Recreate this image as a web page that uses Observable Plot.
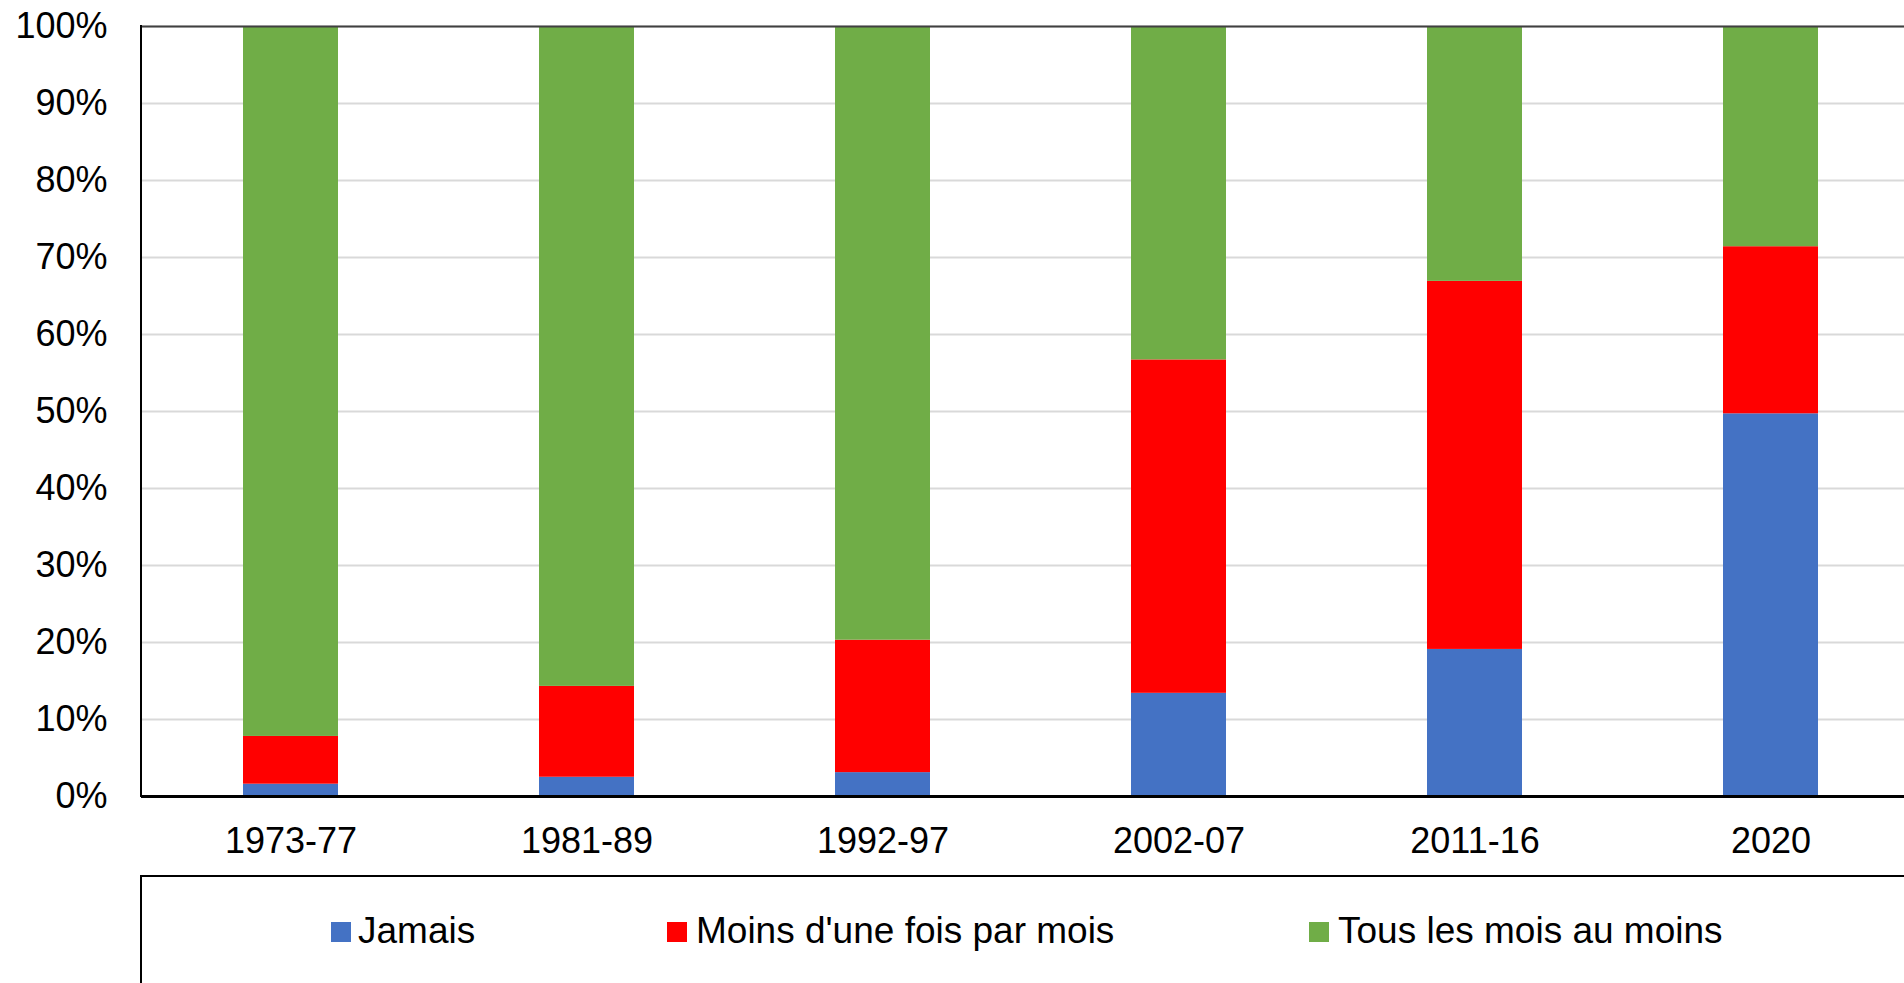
<!DOCTYPE html>
<html>
<head>
<meta charset="utf-8">
<script src="https://cdn.jsdelivr.net/npm/d3@7"></script>
<script src="https://cdn.jsdelivr.net/npm/@observablehq/plot@0.6"></script>
<style>
  html, body { margin: 0; padding: 0; background: #fff; overflow: hidden; width: 1904px; height: 983px; }
  body { font-family: "Liberation Sans", Arial, sans-serif; position: relative; }
  #chart { position: absolute; left: 0; top: 0; width: 1930px; }
  #chart svg { max-width: none !important; }
  #legend { position: absolute; left: 140px; top: 875px; width: 1800px; height: 200px; border: 2px solid #000; box-sizing: border-box; }
  .item { position: absolute; font-size: 37px; line-height: 37px; color: #000; white-space: nowrap; }
  .sw { position: absolute; width: 20px; height: 20px; }
</style>
</head>
<body>
<div id="chart"></div>
<div id="legend"></div>
<script>
const categories = ["1973-77", "1981-89", "1992-97", "2002-07", "2011-16", "2020"];
const seriesNames = ["Jamais", "Moins d'une fois par mois", "Tous les mois au moins"];
const seriesColors = ["#4472C4", "#FF0000", "#70AD47"];
const jamais = [1.6, 2.5, 3.1, 13.4, 19.1, 49.7];
const moins = [6.2, 11.8, 17.2, 43.3, 47.8, 21.7];
const tous = [92.2, 85.7, 79.7, 43.3, 33.1, 28.6];
const yTicks = [0, 10, 20, 30, 40, 50, 60, 70, 80, 90, 100];

const seriesValues = [jamais, moins, tous];
const data = [];
seriesNames.forEach((s, si) => {
  categories.forEach((c, ci) => data.push({ periode: c, serie: s, valeur: seriesValues[si][ci] }));
});

const chart = Plot.plot({
  width: 1930,
  height: 872,
  marginLeft: 141,
  marginRight: 11,
  marginTop: 26,
  marginBottom: 76,
  style: { fontFamily: "'Liberation Sans', Arial, sans-serif", fontSize: "36px", color: "#000", background: "#fff", overflow: "visible", maxWidth: "none" },
  x: { domain: categories, paddingInner: 0.68, paddingOuter: 0.34, label: null },
  y: { domain: [0, 100], label: null },
  color: { domain: seriesNames, range: seriesColors },
  marks: [
    Plot.gridY(yTicks, { stroke: "#D9D9D9", strokeOpacity: 1, strokeWidth: 2 }),
    Plot.barY(data, { x: "periode", y: "valeur", fill: "serie", order: seriesNames }),
    Plot.ruleY([100], { stroke: "#404040", strokeWidth: 2 }),
    Plot.axisY(yTicks, { tickSize: 0, tickPadding: 34, tickFormat: d => d + "%", fontSize: 36 }),
    Plot.axisX({ tickSize: 0, tickPadding: 31, fontSize: 36 }),
    Plot.ruleY([0], { stroke: "#000", strokeWidth: 3 })
  ]
});
document.getElementById("chart").appendChild(chart);
chart.style.maxWidth = "none";
chart.setAttribute("width", 1930);

const svg = d3.select(chart);
// left border line of the plot area
svg.append("line")
  .attr("x1", 141).attr("x2", 141)
  .attr("y1", 25).attr("y2", 797)
  .attr("stroke", "#000").attr("stroke-width", 2);

const legendPos = [
  { sw: 331, tx: 358 },
  { sw: 667, tx: 696 },
  { sw: 1309, tx: 1338 }
];
const legend = document.getElementById("legend");
seriesNames.forEach((s, i) => {
  const sw = document.createElement("div");
  sw.className = "sw";
  sw.style.background = seriesColors[i];
  sw.style.left = (legendPos[i].sw - 142) + "px";
  sw.style.top = (922 - 877) + "px";
  legend.appendChild(sw);
  const t = document.createElement("div");
  t.className = "item";
  t.textContent = s;
  t.style.left = (legendPos[i].tx - 142) + "px";
  t.style.top = (912 - 877) + "px";
  legend.appendChild(t);
});
</script>
</body>
</html>
